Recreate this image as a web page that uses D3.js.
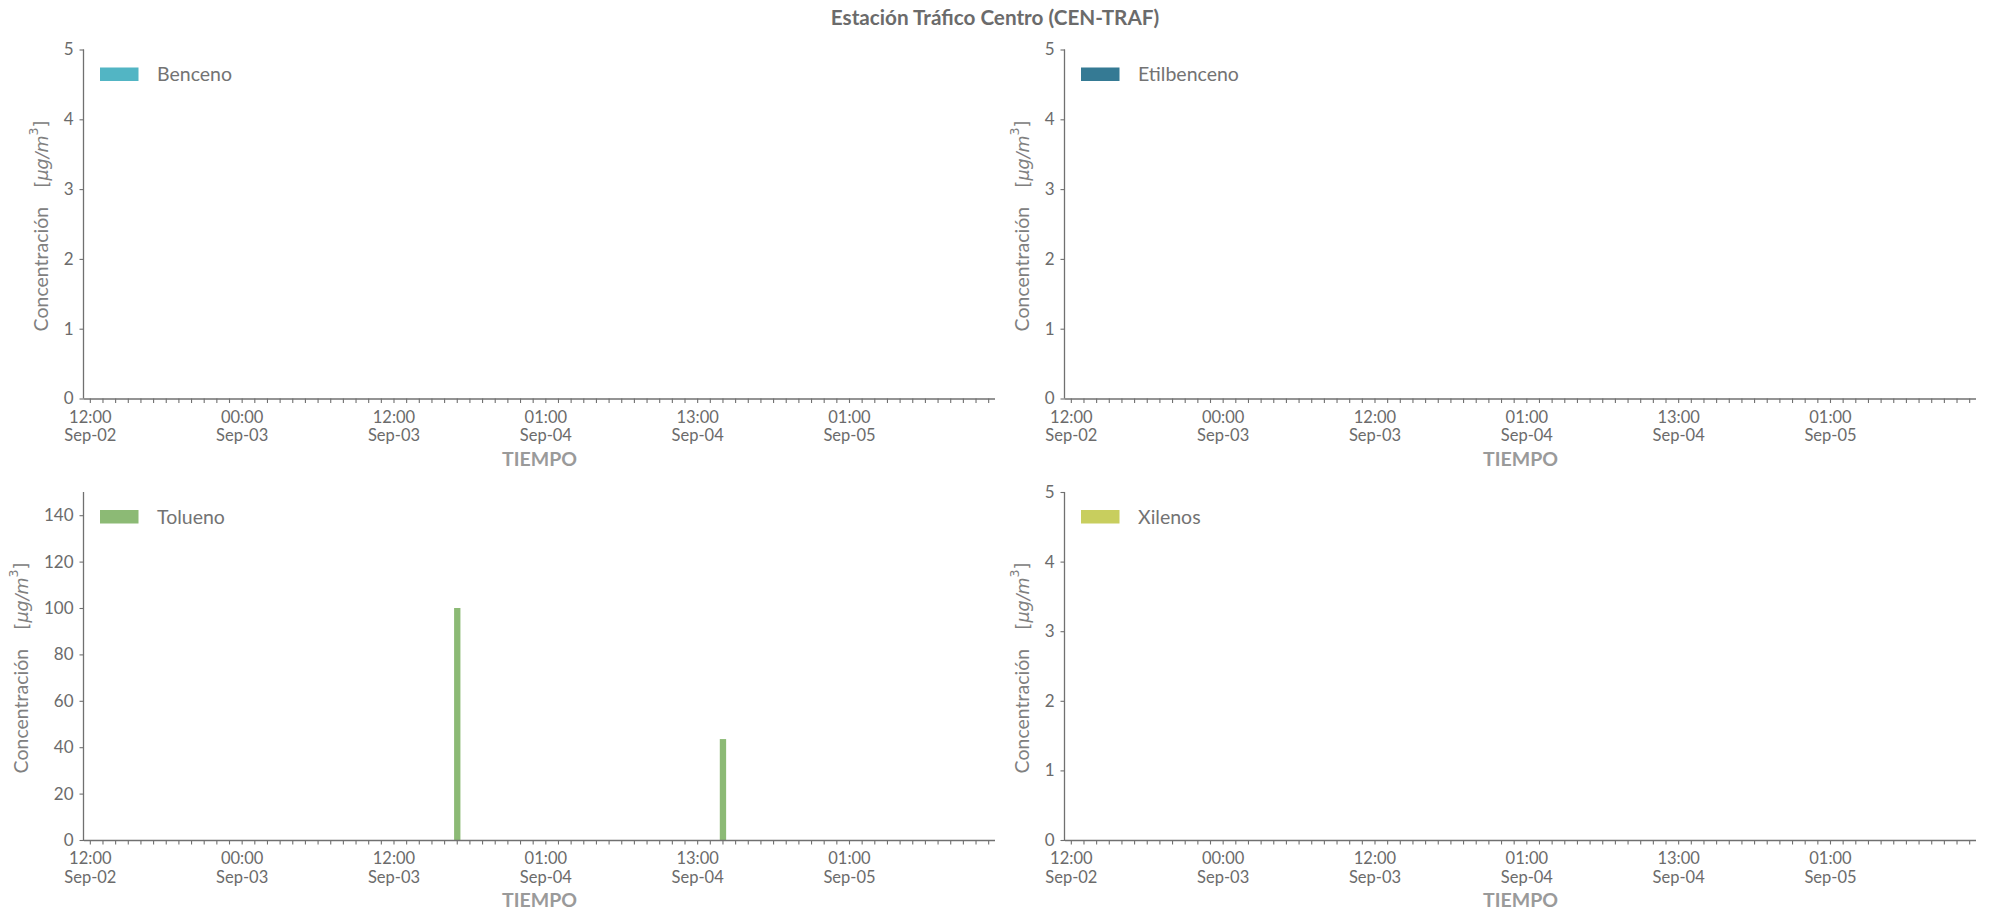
<!DOCTYPE html>
<html>
<head>
<meta charset="utf-8">
<script src="https://cdn.jsdelivr.net/npm/d3@7"></script>
<style>
  html, body { margin: 0; padding: 0; background: #ffffff; }
  svg { display: block; }
  text { font-family: Lato, "Open Sans", "DejaVu Sans", sans-serif; }
</style>
</head>
<body>
<svg id="chart" width="1990" height="922"></svg>
<script>
// ---------- DATA ----------
// Hourly time categories (one hour, Sep-03 20:00, has no record)
const times = [
  "2023-09-02 12:00","2023-09-02 13:00","2023-09-02 14:00","2023-09-02 15:00","2023-09-02 16:00","2023-09-02 17:00",
  "2023-09-02 18:00","2023-09-02 19:00","2023-09-02 20:00","2023-09-02 21:00","2023-09-02 22:00","2023-09-02 23:00",
  "2023-09-03 00:00","2023-09-03 01:00","2023-09-03 02:00","2023-09-03 03:00","2023-09-03 04:00","2023-09-03 05:00",
  "2023-09-03 06:00","2023-09-03 07:00","2023-09-03 08:00","2023-09-03 09:00","2023-09-03 10:00","2023-09-03 11:00",
  "2023-09-03 12:00","2023-09-03 13:00","2023-09-03 14:00","2023-09-03 15:00","2023-09-03 16:00","2023-09-03 17:00",
  "2023-09-03 18:00","2023-09-03 19:00","2023-09-03 21:00","2023-09-03 22:00","2023-09-03 23:00","2023-09-04 00:00",
  "2023-09-04 01:00","2023-09-04 02:00","2023-09-04 03:00","2023-09-04 04:00","2023-09-04 05:00","2023-09-04 06:00",
  "2023-09-04 07:00","2023-09-04 08:00","2023-09-04 09:00","2023-09-04 10:00","2023-09-04 11:00","2023-09-04 12:00",
  "2023-09-04 13:00","2023-09-04 14:00","2023-09-04 15:00","2023-09-04 16:00","2023-09-04 17:00","2023-09-04 18:00",
  "2023-09-04 19:00","2023-09-04 20:00","2023-09-04 21:00","2023-09-04 22:00","2023-09-04 23:00","2023-09-05 00:00",
  "2023-09-05 01:00","2023-09-05 02:00","2023-09-05 03:00","2023-09-05 04:00","2023-09-05 05:00","2023-09-05 06:00",
  "2023-09-05 07:00","2023-09-05 08:00","2023-09-05 09:00","2023-09-05 10:00","2023-09-05 11:00","2023-09-05 12:00"
];
// x tick labels shown at these categories
const labelTimes  = ["2023-09-02 12:00","2023-09-03 00:00","2023-09-03 12:00","2023-09-04 01:00","2023-09-04 13:00","2023-09-05 01:00"];
const labelHours  = ["12:00","00:00","12:00","01:00","13:00","01:00"];
const labelDays   = ["Sep-02","Sep-03","Sep-03","Sep-04","Sep-04","Sep-05"];

// Series (only non-empty readings listed)
const bencenoData     = [];
const etilbencenoData = [];
const toluenoData     = [ { time: "2023-09-03 17:00", value: 100 }, { time: "2023-09-04 15:00", value: 43.5 } ];
const xilenosData     = [];

const seriesNames  = ["Benceno", "Etilbenceno", "Tolueno", "Xilenos"];
const seriesColors = ["#52b5c4", "#357a94", "#8cba75", "#c8ce5e"];

const yMaxSmall = 5;
const yTicksSmall = [0, 1, 2, 3, 4, 5];
const yMaxTolueno = 150;
const yTicksTolueno = [0, 20, 40, 60, 80, 100, 120, 140];

const title = "Estación Tráfico Centro (CEN-TRAF)";
const xLabel = "TIEMPO";

// ---------- LAYOUT ----------
const svg = d3.select("#chart");
const colL = [84, 995], colR = [1065, 1976];
const rowT = [49.5, 398.5], rowB = [492, 840];

const panels = [
  { name: seriesNames[0], color: seriesColors[0], data: bencenoData,     xr: colL, yr: rowT, yMax: yMaxSmall,   ticks: yTicksSmall,   ylx: 42 },
  { name: seriesNames[1], color: seriesColors[1], data: etilbencenoData, xr: colR, yr: rowT, yMax: yMaxSmall,   ticks: yTicksSmall,   ylx: 1023 },
  { name: seriesNames[2], color: seriesColors[2], data: toluenoData,     xr: colL, yr: rowB, yMax: yMaxTolueno, ticks: yTicksTolueno, ylx: 22 },
  { name: seriesNames[3], color: seriesColors[3], data: xilenosData,     xr: colR, yr: rowB, yMax: yMaxSmall,   ticks: yTicksSmall,   ylx: 1023 }
];

const tickColor = "#6b6b6b";
const axisColor = "#707070";

svg.append("text")
  .attr("x", 995).attr("y", 25)
  .attr("text-anchor", "middle")
  .style("font-size", "20.7px").style("font-weight", "700")
  .style("fill", "#6b6b6b")
  .text(title);

panels.forEach(p => {
  const g = svg.append("g");
  const x = d3.scaleBand().domain(times).range(p.xr).paddingInner(0.5).paddingOuter(0.25);
  const y = d3.scaleLinear().domain([0, p.yMax]).range([p.yr[1], p.yr[0]]);

  // bars
  g.selectAll("rect.bar").data(p.data).enter().append("rect")
    .attr("class", "bar")
    .attr("x", d => x(d.time))
    .attr("width", x.bandwidth())
    .attr("y", d => y(d.value))
    .attr("height", d => y(0) - y(d.value))
    .attr("fill", p.color);

  // x axis
  const xa = d3.axisBottom(x).tickValues(times).tickSize(4.5).tickSizeOuter(0).tickPadding(5)
    .tickFormat(d => { const i = labelTimes.indexOf(d); return i >= 0 ? labelHours[i] + "|" + labelDays[i] : ""; });
  const gx = g.append("g").attr("transform", `translate(0,${p.yr[1]})`).call(xa);
  gx.select(".domain").attr("stroke", axisColor).attr("stroke-width", 1.3)
    .attr("d", `M${p.xr[0]},0.5H${p.xr[1]}`);
  gx.selectAll(".tick line").attr("stroke", axisColor).attr("stroke-width", 1.1);
  gx.selectAll(".tick text").each(function(d) {
    const t = d3.select(this);
    const s = t.text();
    t.text("");
    if (!s) return;
    const parts = s.split("|");
    t.attr("fill", tickColor).style("font-size", "16.5px").attr("y", 0).attr("dy", null);
    t.append("tspan").attr("x", 0).attr("y", 24).text(parts[0]);
    t.append("tspan").attr("x", 0).attr("y", 42.5).text(parts[1]);
  });

  // x label
  g.append("text")
    .attr("x", (p.xr[0] + p.xr[1]) / 2).attr("y", p.yr[1] + 67)
    .attr("text-anchor", "middle")
    .style("font-size", "19.5px").style("font-weight", "700").style("fill", "#9a9a9a")
    .text(xLabel);

  // y axis
  const ya = d3.axisLeft(y).tickValues(p.ticks).tickSize(4.5).tickSizeOuter(0).tickPadding(6)
    .tickFormat(d3.format("d"));
  const gy = g.append("g").attr("transform", `translate(${p.xr[0]},0)`).call(ya);
  gy.select(".domain").attr("stroke", axisColor).attr("stroke-width", 1.3)
    .attr("d", `M-0.5,${p.yr[1]}V${p.yr[0]}`);
  gy.selectAll(".tick line").attr("stroke", axisColor).attr("stroke-width", 1.1);
  gy.selectAll(".tick text").attr("fill", tickColor).style("font-size", "17px");

  // y label
  const yl = g.append("text")
    .attr("transform", `translate(${p.ylx},${(p.yr[0] + p.yr[1]) / 2 + 2}) rotate(-90)`)
    .attr("text-anchor", "middle")
    .attr("dy", "0.35em")
    .style("fill", "#808080");
  yl.append("tspan").style("font-size", "19.5px").text("Concentración\u2002\u2002");
  yl.append("tspan").style("font-family", "'DejaVu Sans'").style("font-size", "17.5px").text("[");
  yl.append("tspan").style("font-family", "'DejaVu Sans'").style("font-size", "17.5px").style("font-style", "italic").text("μg/m");
  yl.append("tspan").style("font-family", "'DejaVu Sans'").style("font-size", "12.5px").attr("dy", "-0.75em").text("3");
  yl.append("tspan").style("font-family", "'DejaVu Sans'").style("font-size", "17.5px").attr("dy", "0.5em").text("]");

  // legend
  const lg = g.append("g").attr("transform", `translate(${p.xr[0]},${p.yr[0]})`);
  lg.append("rect").attr("x", 16).attr("y", 18).attr("width", 38.5).attr("height", 13.5).attr("fill", p.color);
  lg.append("text").attr("x", 73).attr("y", 31.5)
    .style("font-size", "19.5px").style("fill", "#737373")
    .text(p.name);
});
</script>
</body>
</html>
